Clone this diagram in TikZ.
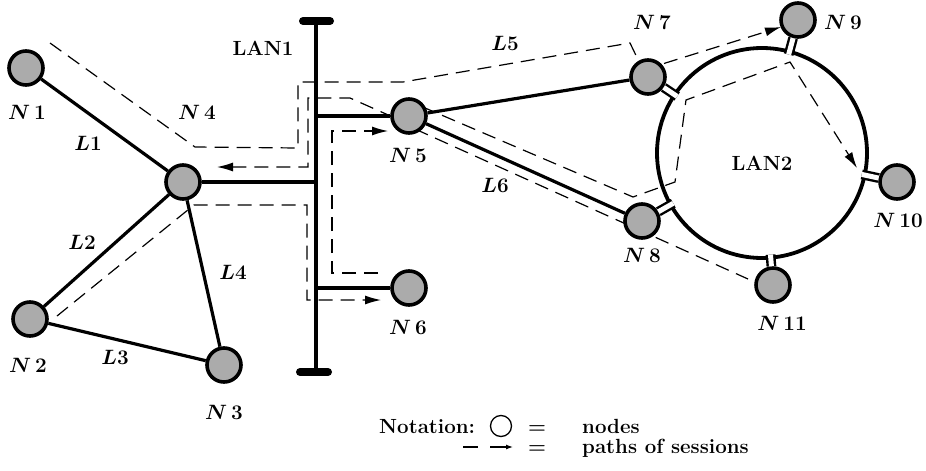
\documentclass[tikz,border=0pt]{standalone}
\usetikzlibrary{arrows.meta,calc}
\newcommand{\nlab}[1]{{\boldmath$N\,#1$}}
\newcommand{\llab}[1]{{\boldmath$L#1$}}
\begin{document}
\begin{tikzpicture}[x=1pt,y=-1pt,
  nd/.style={circle,draw,line width=3.6pt,fill=black!33,minimum size=34pt,inner sep=0pt},
  lnk/.style={line width=3.2pt},
  ses/.style={line width=1.2pt,dash pattern=on 14pt off 8pt},
  tip/.style={-{Latex[length=16pt,width=9pt]}},
  lab/.style={font=\fontsize{20.5}{24}\selectfont\bfseries,inner sep=0pt},
  stub/.style={line width=2.4pt,double=white,double distance=5pt,shorten <=102pt}]
\useasboundingbox (0,0) rectangle (926,471);

% ---- session paths (drawn first, below the nodes)
\draw[ses] (50,43) -- (195,147) -- (298,148) -- (298,82) -- (403,82) -- (630,43) -- (643,70);
\draw[ses,tip] (643,70) -- (781,27);
\draw[ses,{Latex[length=16pt,width=9pt]}-{Latex[length=16pt,width=9pt]}]
  (217,167) -- (308,167) -- (308,98) -- (350,98) -- (395,118) -- (425,108)
  -- (633,197) -- (675,182) -- (686,100) -- (790,62) -- (857,168);
\draw[ses,tip] (57,316) -- (194,205) -- (307,205) -- (307,300) -- (381,300);
\draw[ses,tip] (378,273) -- (332,273) -- (332,131) -- (388,131);
\draw[ses] (415,129) -- (748,279);

% ---- nodes
\node[nd] (N1) at (26,68) {};
\node[nd] (N4) at (183,182) {};
\node[nd] (N2) at (30,319) {};
\node[nd] (N3) at (224,365) {};
\node[nd] (N5) at (409,116) {};
\node[nd] (N6) at (409,288) {};
\node[nd] (N7) at (648,77) {};
\node[nd] (N8) at (642,221) {};
\node[nd] (N9) at (798,20) {};
\node[nd] (N10) at (897,182) {};
\node[nd] (N11) at (773,285) {};

% ---- LAN1 bus
\coordinate (BT) at (316,21);
\coordinate (BB) at (316,372);
\coordinate (T4) at (316,182);
\coordinate (T5) at (316,116);
\coordinate (T6) at (316,288);
\draw[line width=4pt] (BT) -- (BB);
\draw[line width=8pt,line cap=round] ($(BT)+(-13,0)$) -- ($(BT)+(14,0)$);
\draw[line width=8pt,line cap=round] ($(BB)+(-16,0)$) -- ($(BB)+(12,0)$);
\draw[lnk] (N4) -- (T4);
\draw[lnk] (N5) -- (T5);
\draw[lnk] (N6) -- (T6);

% ---- links
\draw[lnk] (N1) -- (N4);
\draw[lnk] (N2) -- (N4);
\draw[lnk] (N2) -- (N3);
\draw[lnk] (N4) -- (N3);
\draw[lnk] (N5) -- (N7);
\draw[lnk] (N5) -- (N8);

% ---- LAN2 ring
\coordinate (R) at (762,153);
\draw[line width=3.8pt] (R) circle (105pt);
\foreach \n in {N7,N8,N9,N10,N11}{\draw[stub] (R) -- (\n);}

% ---- labels
\node[lab] (lN1) at (27,112) {\nlab{1}};
\node[lab] (lL1) at (88,143) {\llab{1}};
\node[lab] (lN4) at (197,112) {\nlab{4}};
\node[lab] (lLAN1) at (263,48) {LAN1};
\node[lab] (lL2) at (82,242) {\llab{2}};
\node[lab] (lL4) at (233,272) {\llab{4}};
\node[lab] (lL3) at (115,357) {\llab{3}};
\node[lab] (lN2) at (28,365) {\nlab{2}};
\node[lab] (lN3) at (224,412) {\nlab{3}};
\node[lab] (lN6) at (408,327) {\nlab{6}};
\node[lab] (lN5) at (408,155) {\nlab{5}};
\node[lab] (lL5) at (505,43) {\llab{5}};
\node[lab] (lL6) at (495,185) {\llab{6}};
\node[lab] (lN7) at (652,22) {\nlab{7}};
\node[lab] (lN8) at (642,255) {\nlab{8}};
\node[lab] (lN9) at (843,22) {\nlab{9}};
\node[lab] (lN10) at (898,220) {\nlab{10}};
\node[lab] (lN11) at (782,323) {\nlab{11}};
\node[lab] (lLAN2) at (762,163) {LAN2};

% ---- legend
\node[lab,anchor=base west] (nota) at (379,433) {Notation:};
\node[circle,draw,line width=1.3pt,minimum size=21pt,inner sep=0pt] (lc) at (501,426) {};
\node[lab,anchor=base] (eq1) at (537,433) {=};
\node[lab,anchor=base west] (nodes) at (582,433) {nodes};
\coordinate (d1) at (463,447);
\coordinate (d2) at (478,447);
\coordinate (a1) at (490,447);
\coordinate (a2) at (513,447);
\draw[line width=1.2pt] (d1) -- (d2);
\draw[line width=1.2pt,-{Latex[length=7pt,width=5pt]}] (a1) -- (a2);
\node[lab,anchor=base] (eq2) at (537,453) {=};
\node[lab,anchor=base west] (paths) at (582,453) {paths of sessions};
\end{tikzpicture}
\end{document}
